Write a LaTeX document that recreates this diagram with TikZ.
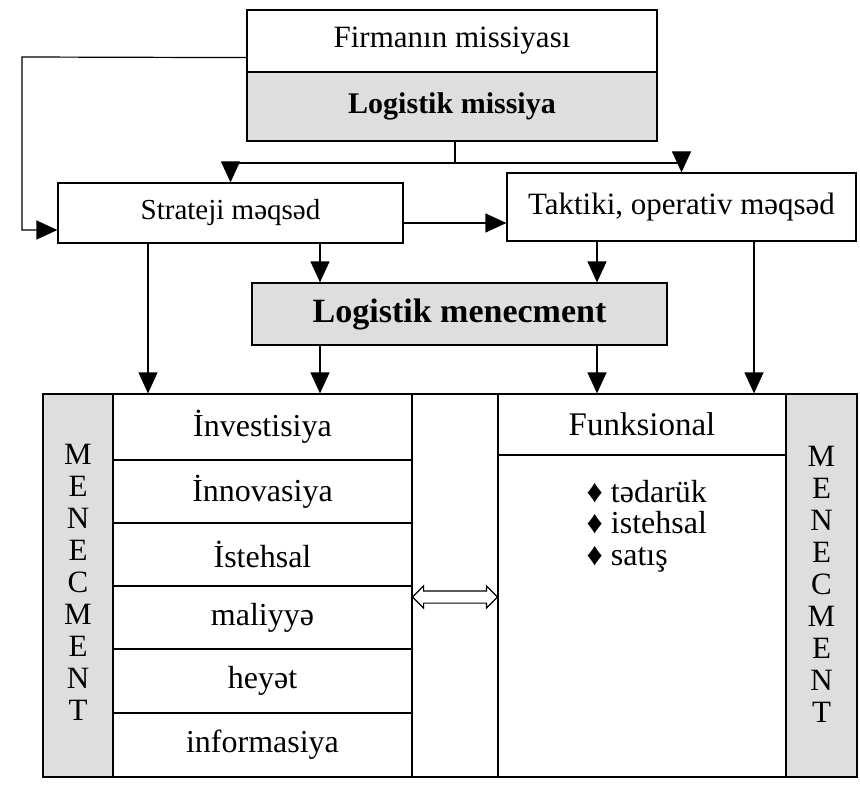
\documentclass[tikz,border=0pt]{standalone}
\usepackage{fontspec}
\setmainfont{Liberation Serif}
\usetikzlibrary{arrows.meta,shapes.arrows,calc}

\begin{document}
\begin{tikzpicture}[x=1pt,y=-1pt,
  line width=1.2pt,
  cell/.style={draw,inner sep=0pt,anchor=center},
  shaded/.style={cell,fill=black!13},
  tip/.style={-{Triangle[length=21pt,width=19pt]}},
  fsize/.style={font=\fontsize{#1}{#1}\selectfont},
  letters/.style={inner sep=0pt,align=center,font=\fontsize{31}{32}\selectfont}]

\useasboundingbox (0,0) rectangle (860,789);

% mission boxes
\node[cell,minimum width=410pt,minimum height=62pt,fsize=31] (fm) at (452,41) {Firmanın missiyası};
\node[shaded,minimum width=410pt,minimum height=69pt,font=\fontsize{30}{30}\selectfont\bfseries] (lm) at (452,106.5) {Logistik missiya};

% goals
\node[cell,minimum width=345pt,minimum height=60pt,fsize=29] (sm) at (230.5,213) {Strateji məqsəd};
\node[cell,minimum width=349pt,minimum height=68pt,fsize=31] (tm) at (681.5,207) {Taktiki, operativ məqsəd};

% logistic management
\node[shaded,minimum width=415pt,minimum height=62pt,font=\fontsize{34}{34}\selectfont\bfseries] (lmen) at (459.5,314) {Logistik menecment};

% lower block: left management column
\node[shaded,minimum width=70pt,minimum height=383pt] (lmc) at (78,585.5) {};
\node[letters] (lmt) at (78,582) {M\\E\\N\\E\\C\\M\\E\\N\\T};

% lower block: resource rows
\node[cell,minimum width=299pt,minimum height=66pt,fsize=32] (r1) at (262.5,427) {İnvestisiya};
\node[cell,minimum width=299pt,minimum height=63pt,fsize=32] (r2) at (262.5,491.5) {İnnovasiya};
\node[cell,minimum width=299pt,minimum height=63pt,fsize=32] (r3) at (262.5,554.5) {İstehsal};
\node[cell,minimum width=299pt,minimum height=63pt,fsize=32] (r4) at (262.5,617.5) {maliyyə};
\node[cell,minimum width=299pt,minimum height=64pt,fsize=32] (r5) at (262.5,681) {heyət};
\node[cell,minimum width=299pt,minimum height=64pt,fsize=32] (r6) at (262.5,745) {informasiya};

% gap column with the two-way arrow
\node[cell,minimum width=86pt,minimum height=383pt] (gap) at (455,585.5) {};
\node[double arrow,draw,line width=1.2pt,inner xsep=0pt,inner ysep=5.5pt,minimum height=85pt,
      double arrow head extend=5pt,double arrow head indent=0pt] (dbl) at (455,597) {};

% functional column
\node[cell,minimum width=288pt,minimum height=61pt,fsize=33] (fh) at (642,424.5) {Funksional};
\node[cell,minimum width=288pt,minimum height=322pt] (fb) at (642,616) {};
\node[anchor=base west,inner sep=0pt,fsize=32] (b1) at (586,502) {♦ tədarük};
\node[anchor=base west,inner sep=0pt,fsize=32] (b2) at (586,533) {♦ istehsal};
\node[anchor=base west,inner sep=0pt,fsize=32] (b3) at (586,565) {♦ satış};

% right management column
\node[shaded,minimum width=71pt,minimum height=383pt] (rmc) at (821.5,585.5) {};
\node[letters] (rmt) at (821.5,584) {M\\E\\N\\E\\C\\M\\E\\N\\T};

% connectors: mission to goals
\coordinate (split) at (455,163);
\draw (lm.south -| split) -- (split);
\draw[tip] (split) -| (sm.north);
\draw[tip] (split) -| (tm.north);

% feedback from company mission to strategic goal
\coordinate (fbA) at ($(fm.south west)+(0,-15)$);
\coordinate (fbB) at (22,57);
\coordinate (fbC) at (22,230);
\coordinate (fbD) at (sm.west |- fbC);
\draw[tip] (fbA) -- (fbB) -- (fbC) -- (fbD);

% strategic to tactical
\draw[tip] (sm.east |- 0,223) -- (tm.west |- 0,223);

% goals to management and lower block
\draw[tip] (sm.south -| 148,0) -- (r1.north -| 148,0);
\draw[tip] (sm.south -| 320,0) -- (lmen.north -| 320,0);
\draw[tip] (tm.south -| 597,0) -- (lmen.north -| 597,0);
\draw[tip] (tm.south -| 754,0) -- (fh.north -| 754,0);
\draw[tip] (lmen.south -| 320,0) -- (r1.north -| 320,0);
\draw[tip] (lmen.south -| 597,0) -- (fh.north -| 597,0);

\end{tikzpicture}
\end{document}
